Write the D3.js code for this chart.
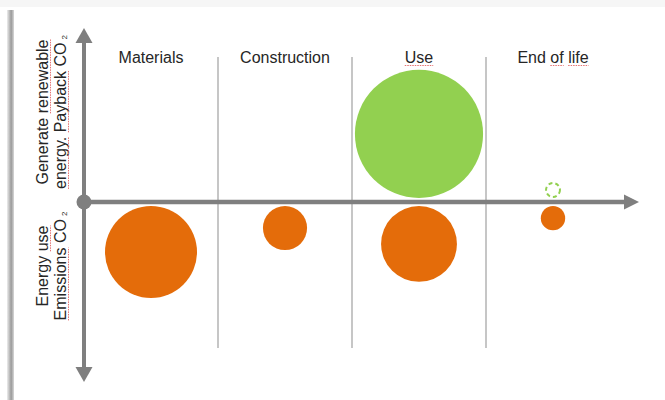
<!DOCTYPE html>
<html>
<head>
<meta charset="utf-8">
<script src="https://cdn.jsdelivr.net/npm/d3@7"></script>
<style>
html,body{margin:0;padding:0;background:#fff;}
svg{display:block;font-family:"Liberation Sans",Arial,sans-serif;}
</style>
</head>
<body>
<div id="chartDiv"></div>
<script>
//---chart data---
var Stages=["Materials","Construction","Use","End of life"]
var Emissions=[100,23,68,7]        //---energy use, below axis---
var Payback=[0,0,194,3]            //---renewable payback, above axis---
var PaybackDashed=[false,false,false,true]
var UpperLabel=["Generate renewable","energy. Payback CO"]
var LowerLabel=["Energy use","Emissions CO"]

var Width=665
var Height=400
var OriginX=84
var OriginY=202
var Gap=4
var Grey="#7f7f7f"
var Orange="#e46c0a"
var Green="#92d050"

var ChartSVG=d3.select("#chartDiv").append("svg")
  .attr("width",Width).attr("height",Height)
  .attr("viewBox","0 0 "+Width+" "+Height)

//---slide frame shadow---
var grad=ChartSVG.append("defs").append("linearGradient")
  .attr("id","shadeGrad").attr("x1","0").attr("x2","1")
grad.append("stop").attr("offset","0").attr("stop-color","#ededed")
grad.append("stop").attr("offset","0.6").attr("stop-color","#9a9a9a")
grad.append("stop").attr("offset","1").attr("stop-color","#d8d8d8")
ChartSVG.append("rect").attr("x",0).attr("y",0).attr("width",Width).attr("height",7).attr("fill","#f6f6f6")
ChartSVG.append("rect").attr("x",7).attr("y",10).attr("width",7).attr("height",Height-10).attr("fill","url(#shadeGrad)")

//---scales---
var X=d3.scaleBand().domain(Stages).range([OriginX,620]).padding(0)
var R=d3.scaleSqrt().domain([0,100]).range([0,46])

//---stage separators---
ChartSVG.append("g").selectAll("line")
  .data(Stages.slice(1))
  .join("line")
  .attr("x1",d=>X(d)).attr("x2",d=>X(d))
  .attr("y1",57).attr("y2",348)
  .attr("stroke","#b3b3b3").attr("stroke-width",1.5)

//---stage headers---
var HeadG=ChartSVG.append("g")
HeadG.selectAll("text")
  .data(Stages)
  .join("text")
  .attr("x",d=>X(d)+X.bandwidth()/2)
  .attr("y",63)
  .attr("text-anchor","middle")
  .attr("font-size","16px")
  .attr("fill","#262626")
  .text(d=>d)

//---axes---
var AxisG=ChartSVG.append("g")
AxisG.append("line")
  .attr("x1",OriginX).attr("x2",OriginX).attr("y1",40).attr("y2",370)
  .attr("stroke",Grey).attr("stroke-width",4)
AxisG.append("line")
  .attr("x1",OriginX).attr("x2",626).attr("y1",OriginY).attr("y2",OriginY)
  .attr("stroke",Grey).attr("stroke-width",4.5)
AxisG.append("path") //---up---
  .attr("d","M"+OriginX+",28 L"+(OriginX+8.5)+",43 L"+(OriginX-8.5)+",43Z").attr("fill",Grey)
AxisG.append("path") //---down---
  .attr("d","M"+OriginX+",382 L"+(OriginX+8.5)+",367 L"+(OriginX-8.5)+",367Z").attr("fill",Grey)
AxisG.append("path") //---right---
  .attr("d","M639,"+OriginY+" L624,"+(OriginY-7.5)+" L624,"+(OriginY+7.5)+"Z").attr("fill",Grey)
AxisG.append("circle").attr("cx",OriginX).attr("cy",OriginY).attr("r",7.5).attr("fill",Grey)

//---bubbles---
var BubbleG=ChartSVG.append("g")
BubbleG.selectAll("circle.emit")
  .data(Stages.map((s,i)=>({stage:s,v:Emissions[i]})).filter(d=>d.v>0))
  .join("circle").attr("class","emit")
  .attr("cx",d=>X(d.stage)+X.bandwidth()/2)
  .attr("cy",d=>OriginY+Gap+R(d.v))
  .attr("r",d=>R(d.v))
  .attr("fill",Orange)

BubbleG.selectAll("circle.pay")
  .data(Stages.map((s,i)=>({stage:s,v:Payback[i],dash:PaybackDashed[i]})).filter(d=>d.v>0))
  .join("circle").attr("class","pay")
  .attr("cx",d=>X(d.stage)+X.bandwidth()/2)
  .attr("cy",d=>OriginY-Gap-R(d.v))
  .attr("r",d=>d.dash?R(d.v)-1:R(d.v))
  .attr("fill",d=>d.dash?"none":Green)
  .attr("stroke",d=>d.dash?Green:"none")
  .attr("stroke-width",2)
  .attr("stroke-dasharray",d=>d.dash?"4 3":null)

//---rotated axis labels---
function sideLabel(lines,cy)
{
  var g=ChartSVG.append("g").attr("transform","translate(0,"+cy+") rotate(-90)")
  lines.forEach(function(line,i){
    var t=g.append("text")
      .attr("x",0).attr("y",48+i*18)
      .attr("text-anchor","middle")
      .attr("font-size","16px")
      .attr("fill","#262626")
    t.append("tspan").text(line)
    if(i==1)
    {
      t.append("tspan").attr("font-size","8px").attr("dx",3).attr("dy",1).text("2")
    }
  })
}
sideLabel(UpperLabel,112)
sideLabel(LowerLabel,266)

//---spell-check underlines (red dotted)---
function underline(textSel,word)
{
  textSel.each(function(){
    var node=this
    var full=node.textContent
    var idx=full.indexOf(word)
    if(idx<0) return
    var a=node.getStartPositionOfChar(idx)
    var b=node.getEndPositionOfChar(idx+word.length-1)
    d3.select(node.parentNode).append("line")
      .attr("x1",a.x).attr("x2",b.x).attr("y1",a.y+2.5).attr("y2",a.y+2.5)
      .attr("stroke","#e57373").attr("stroke-width",1).attr("stroke-dasharray","1.5 1")
  })
}
underline(HeadG.selectAll("text").filter(d=>d=="Use"),"Use")
underline(HeadG.selectAll("text").filter(d=>d=="End of life"),"of")
underline(HeadG.selectAll("text").filter(d=>d=="End of life"),"life")
ChartSVG.selectAll("g text").each(function(){
  var s=d3.select(this)
  var txt=this.textContent
  if(txt.indexOf("renewable")>=0) underline(s,"renewable")
  if(txt.indexOf("Payback")>=0){ underline(s,"Payback"); underline(s,"energy.") }
  if(txt.indexOf("Energy use")>=0) underline(s,"use")
  if(txt.indexOf("Emissions")>=0) underline(s,"Emissions")
})
</script>
</body>
</html>
